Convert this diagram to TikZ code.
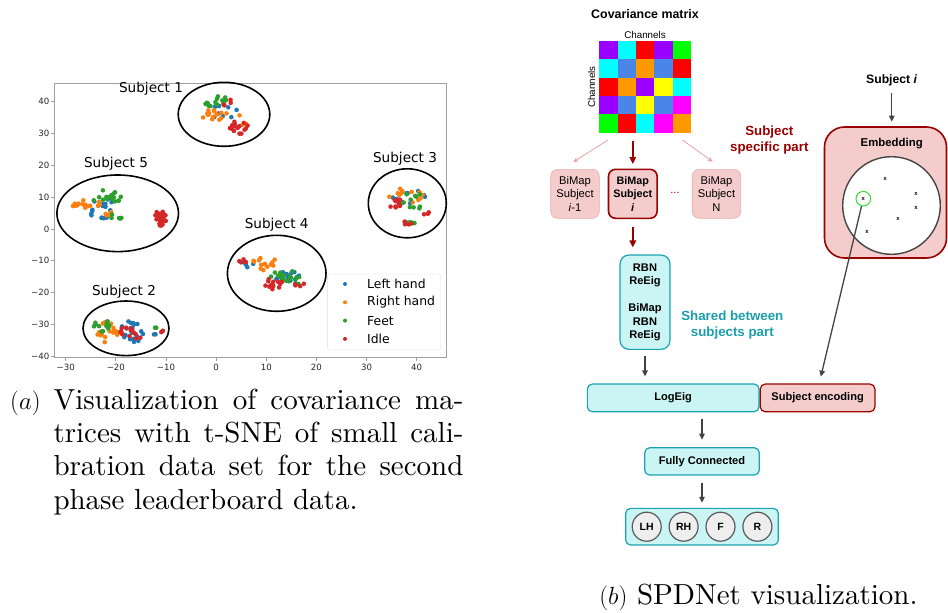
\documentclass[tikz,border=0pt]{standalone}
\usepackage{fontspec}
\usetikzlibrary{positioning,calc,arrows.meta}
\newfontfamily\plotfont{DejaVu Sans}
\newfontfamily\diafont{Liberation Sans}
\newfontfamily\capfont{lmroman10-regular.otf}
% colours of the plot
\definecolor{mplblue}{HTML}{1F77B4}
\definecolor{mplorange}{HTML}{FF7F0E}
\definecolor{mplgreen}{HTML}{2CA02C}
\definecolor{mplred}{HTML}{D62728}
% colours of the network
\definecolor{darkred}{HTML}{990000}
\definecolor{lightpink}{HTML}{F4CCCC}
\definecolor{pinkline}{HTML}{E8A0A0}
\definecolor{tealline}{HTML}{1AA3B0}
\definecolor{tealtext}{HTML}{1A9EAE}
\definecolor{lightcyan}{HTML}{CBF5F5}
\definecolor{arrowgray}{HTML}{434343}
\definecolor{pickgreen}{HTML}{33DD33}
% colours of the matrix
\definecolor{cpurple}{HTML}{9900FF}
\definecolor{ccyan}{HTML}{00FFFF}
\definecolor{cred}{HTML}{FF0000}
\definecolor{cgreen}{HTML}{00FF00}
\definecolor{cblue}{HTML}{4A86E8}
\definecolor{corange}{HTML}{FF9900}
\definecolor{cyellow}{HTML}{FFFF00}
\definecolor{cmagenta}{HTML}{FF00FF}
\tikzset{
  ticklabel/.style={font=\plotfont\fontsize{8.6}{10}\selectfont, text=black!85, inner sep=0pt},
  subjectlabel/.style={font=\plotfont\fontsize{13.6}{16}\selectfont, inner sep=0pt},
  legendlabel/.style={font=\plotfont\fontsize{12.4}{14}\selectfont, anchor=west, inner sep=0pt},
  cluster/.style={line width=1.6pt},
  captiontext/.style={font=\capfont\fontsize{29}{33.3}\selectfont, anchor=base west, inner sep=0pt},
  pinkbox/.style={rounded corners=7pt, fill=lightpink, draw=lightpink!85!darkred, line width=0.6pt,
    minimum width=48.6pt, minimum height=49pt, inner sep=0pt, align=center,
    font=\diafont\fontsize{11.2}{13.3}\selectfont},
  chosenbox/.style={pinkbox, draw=darkred, line width=1.6pt, font=\diafont\bfseries\fontsize{10.8}{13.3}\selectfont},
  cyanbox/.style={rounded corners=5pt, fill=lightcyan, draw=tealline, line width=1.2pt, inner sep=0pt,
    align=center, font=\diafont\bfseries\fontsize{11.1}{13.5}\selectfont},
  redbox/.style={cyanbox, fill=lightpink, draw=darkred},
  classnode/.style={circle, fill=gray!13, draw=gray!70!black, line width=1.2pt, minimum size=29pt,
    inner sep=0pt, font=\diafont\bfseries\fontsize{10.5}{12}\selectfont},
  boldlabel/.style={font=\diafont\bfseries\fontsize{11.4}{14}\selectfont, inner sep=0pt},
  xmark/.style={font=\diafont\bfseries\fontsize{5.8}{6}\selectfont, inner sep=0pt},
  grayarrow/.style={-{Triangle[length=6pt,width=5.5pt]}, draw=arrowgray, line width=1.3pt},
  redarrow/.style={-{Triangle[length=7pt,width=6.5pt]}, draw=darkred, line width=1.8pt},
  pinkarrow/.style={-{Stealth[length=5pt,width=4.5pt]}, draw=pinkline, line width=0.8pt},
}
% a cloud of points: colour, centre x, centre y, spread x, spread y, number
\newcommand{\cloud}[6]{%
  \foreach \k in {1,...,#6}{
    \pgfmathsetmacro{\ang}{360*rnd}
    \pgfmathsetmacro{\rad}{sqrt(rnd)}
    \fill[#1] ({#2+#4*\rad*cos(\ang)},{#3+#5*\rad*sin(\ang)}) circle [radius=2.3pt];
  }}
\begin{document}
\begin{tikzpicture}[x=1pt,y=-1pt]
\useasboundingbox (0,0) rectangle (948,613);
\pgfmathsetseed{11}
% Draw axes frame and ticks
\draw[gray!75, line width=0.8pt] (54.5,83) rectangle (446.5,357);
\foreach \v [count=\k from 0] in {−30,−20,−10,0,10,20,30,40}{
  \draw[gray!75, line width=0.8pt] ({65.7+50.14*\k},357) -- ++(0,3.5);
  \node (xt\k) [ticklabel] at ({65.7+50.14*\k},367.5) {\v};
}
\foreach \v [count=\k from 0] in {40,30,20,10,0,−10,−20,−30,−40}{
  \draw[gray!75, line width=0.8pt] (54.5,{101.7+31.8*\k}) -- ++(-3.5,0);
  \node (yt\k) [ticklabel, anchor=east] at (49.5,{101.7+31.8*\k}) {\v};
}
% Draw the points in data units
\begin{scope}[shift={(216.1,228.9)}, x=5.014pt, y=3.18pt]
  % left hand
  \cloud{mplblue}{1.5}{37}{3.5}{2.2}{10}
  \cloud{mplblue}{-23}{6.5}{4}{3.5}{14}
  \cloud{mplblue}{-22}{4}{1.2}{1}{6}
  \cloud{mplblue}{38}{10}{4}{2.5}{12}
  \cloud{mplblue}{14.5}{-15}{3}{2}{16}
  \cloud{mplblue}{6}{-11}{1.5}{1.2}{4}
  \cloud{mplblue}{-17}{-32.5}{2.5}{3.5}{20}
  \cloud{mplblue}{-12}{-33}{0.5}{0.6}{2}
  % right hand
  \cloud{mplorange}{-0.5}{36}{3}{1.8}{14}
  \cloud{mplorange}{5.5}{34.5}{1.2}{2}{4}
  \cloud{mplorange}{-25.5}{7.8}{3.5}{1.5}{14}
  \cloud{mplorange}{-21}{5}{1.5}{1}{4}
  \cloud{mplorange}{38}{10.5}{4}{2.5}{12}
  \cloud{mplorange}{9.5}{-11}{3}{2.2}{14}
  \cloud{mplorange}{-21.5}{-32.5}{2.5}{3.8}{20}
  % feet
  \cloud{mplgreen}{0}{40}{2.5}{2}{14}
  \cloud{mplgreen}{-22}{10}{3}{2.2}{16}
  \cloud{mplgreen}{-20}{4}{1.5}{1.5}{5}
  \cloud{mplgreen}{39}{9}{3}{3}{12}
  \cloud{mplgreen}{39.5}{2}{1.5}{0.8}{5}
  \cloud{mplgreen}{14}{-15.5}{4}{2.3}{18}
  \cloud{mplgreen}{-21.5}{-30.5}{3}{2}{14}
  \cloud{mplgreen}{-12}{-31.5}{0.6}{0.6}{2}
  % idle
  \cloud{mplred}{4.5}{32}{2}{2.3}{16}
  \cloud{mplred}{2}{39.5}{1.5}{1.5}{4}
  \cloud{mplred}{-11}{3.5}{1.2}{2.5}{26}
  \cloud{mplred}{35.5}{8}{2}{1.5}{10}
  \cloud{mplred}{38.5}{2}{1.5}{0.8}{5}
  \cloud{mplred}{42}{5}{0.6}{1}{3}
  \cloud{mplred}{11}{-17.5}{2.5}{2}{12}
  \cloud{mplred}{5.5}{-10}{1.2}{0.8}{4}
  \cloud{mplred}{16}{-18}{2.5}{1}{4}
  \cloud{mplred}{-17}{-33}{2.5}{3}{14}
  \cloud{mplred}{-11.5}{-32}{1}{0.6}{3}
\end{scope}
% Draw the subject ellipses
\draw[cluster] (224,114.3) ellipse [x radius=45.8, y radius=32];
\draw[cluster] (117.7,213.3) ellipse [x radius=60.8, y radius=38.3];
\draw[cluster] (407.3,203.3) ellipse [x radius=39, y radius=34.5];
\draw[cluster] (276.7,273.3) ellipse [x radius=49.3, y radius=38];
\draw[cluster] (126,328.3) ellipse [x radius=43, y radius=27.3];
\node (s1) [subjectlabel] at (151,89) {Subject 1};
\node (s5) [subjectlabel] at (116,163.5) {Subject 5};
\node (s3) [subjectlabel] at (405,158.5) {Subject 3};
\node (s4) [subjectlabel] at (276.7,224.5) {Subject 4};
\node (s2) [subjectlabel] at (124,291.5) {Subject 2};
% Legend
\node (legend) [draw=gray!25, fill=white, rounded corners=2.5pt, minimum width=113.4pt, minimum height=76pt] at (384,312) {};
\foreach \c/\t [count=\k from 0] in {mplblue/Left hand,mplorange/Right hand,mplgreen/Feet,mplred/Idle}{
  \fill[\c] (345,{284+18.3*\k}) circle [radius=2pt];
  \node (lg\k) [legendlabel] at (367,{284+18.3*\k}) {\t};
}
% Caption of the plot
\node (capa) [captiontext] at (10,409.3) {$(a)$};
\node (capa1) [captiontext] at (53.3,409.3) {\makebox[410pt][s]{Visualization of covariance ma-}};
\node (capa2) [captiontext] at (53.3,442.6) {\makebox[410pt][s]{trices with t-SNE of small cali-}};
\node (capa3) [captiontext] at (53.3,475.9) {\makebox[410pt][s]{bration data set for the second}};
\node (capa4) [captiontext] at (53.3,509.2) {phase leaderboard data.};
% Covariance matrix
\node (covtitle) [font=\diafont\bfseries\fontsize{12.4}{14}\selectfont] at (645,14) {Covariance matrix};
\foreach \row [count=\r from 0] in {{cpurple,ccyan,cred,cpurple,cgreen},{ccyan,cblue,corange,cblue,cred},
    {cred,corange,cpurple,cyellow,ccyan},{cpurple,cblue,cyellow,cblue,cmagenta},{cgreen,cred,ccyan,cmagenta,corange}}{
  \foreach \c [count=\q from 0] in \row
    \fill[\c] ({599.3+18.3*\q},{41+18.3*\r}) rectangle +(18.3,18.3);
}
\node (cov) [minimum width=91.5pt, minimum height=91.5pt, inner sep=0pt] at (645.05,86.75) {};
\node (chtop) [font=\diafont\fontsize{9.8}{11}\selectfont, inner sep=0pt] at (645,35) {Channels};
\node (chleft) [font=\diafont\fontsize{9.8}{11}\selectfont, inner sep=0pt, rotate=90] at (591.5,87) {Channels};
% Subject specific part
\node (bprev) [pinkbox] at (575,193.8) {BiMap\\Subject\\\textit{i}-1};
\node (bcur) [chosenbox] at (632.8,193.8) {BiMap\\Subject\\\textit{i}};
\node (bdots) [text=darkred, font=\diafont\fontsize{11}{13}\selectfont] at (675,193) {...};
\node (blast) [pinkbox] at (716.5,193.8) {BiMap\\Subject\\N};
\node (specific) [align=center, text=darkred, font=\diafont\bfseries\fontsize{13.3}{15.5}\selectfont] at (769.3,140) {Subject\\specific part};
\draw[pinkarrow] ($(cov.south west)+(9,7.3)$) -- ($(bprev.north)+(-1.7,-7)$);
\draw[pinkarrow] ($(cov.south east)+(-8.4,7.3)$) -- ($(blast.north)+(-3.8,-7.3)$);
\draw[redarrow, shorten <=8pt, shorten >=4.5pt] (cov.south -| bcur.north) -- (bcur.north);
% Shared part
\node (shared) [cyanbox, rounded corners=9pt, minimum width=50pt, minimum height=94.3pt] at (645,302.2)
  {RBN\\ReEig\\[13.5pt]BiMap\\RBN\\ReEig};
\node (sharedlabel) [align=center, text=tealtext, font=\diafont\bfseries\fontsize{13.3}{16}\selectfont] at (732.3,325.3) {Shared between\\subjects part};
\draw[redarrow, shorten <=8pt, shorten >=7pt] (bcur.south) -- (bcur.south |- shared.north);
\node (logeig) [cyanbox, minimum width=171.7pt, minimum height=27.7pt] at (673.2,397.9) {LogEig};
\node (subjenc) [redbox, minimum width=114.7pt, minimum height=27.7pt, right=0pt of logeig] {Subject encoding};
\node (fc) [cyanbox, minimum width=114.6pt, minimum height=27.3pt] at (702,461.4) {Fully Connected};
\node (out) [cyanbox, minimum width=152.6pt, minimum height=36.7pt] at (702,526.7) {};
\foreach \t [count=\k from 0] in {LH,RH,F,R}
  \node (cls\k) [classnode] at ({646.7+36.9*\k},526.7) {\t};
\draw[grayarrow, shorten <=6pt, shorten >=7pt] (shared.south) -- (shared.south |- logeig.north);
\draw[grayarrow, shorten <=6.5pt, shorten >=7.5pt] (fc.north |- logeig.south) -- (fc.north);
\draw[grayarrow, shorten <=7pt, shorten >=5pt] (fc.south) -- (out.north);
% Embedding of the subjects
\node (subj) [font=\diafont\bfseries\fontsize{12.2}{14}\selectfont] at (891.7,80) {Subject \textit{i}};
\node (embed) [redbox, rounded corners=20pt, line width=1.6pt, minimum width=122pt, minimum height=131pt] at (885.5,192.5) {};
\node (embedtitle) [boldlabel] at (891.7,143.3) {Embedding};
\node (space) [circle, draw=gray!55!black, fill=white, line width=1.4pt, minimum size=97.6pt, inner sep=0pt] at (891.5,205.5) {};
\node (picked) [circle, draw=pickgreen, line width=1pt, minimum size=14.6pt, xmark] at (863.3,198.7) {x};
\node (x1) [xmark] at (885.3,178.7) {x};
\node (x2) [xmark] at (916,193.7) {x};
\node (x3) [xmark] at (916,208) {x};
\node (x4) [xmark] at (898,219.3) {x};
\node (x5) [xmark] at (867,232) {x};
\draw[grayarrow, shorten <=4pt, shorten >=4.5pt] (subj.south) -- (embed.north -| subj.south);
\draw[grayarrow, shorten >=7pt] (picked) -- ($(subjenc.north)+(1.6,0)$);
% Caption of the network
\node (capb) [captiontext, anchor=base] at (758.5,604) {$(b)$ SPDNet visualization.};
\end{tikzpicture}
\end{document}
